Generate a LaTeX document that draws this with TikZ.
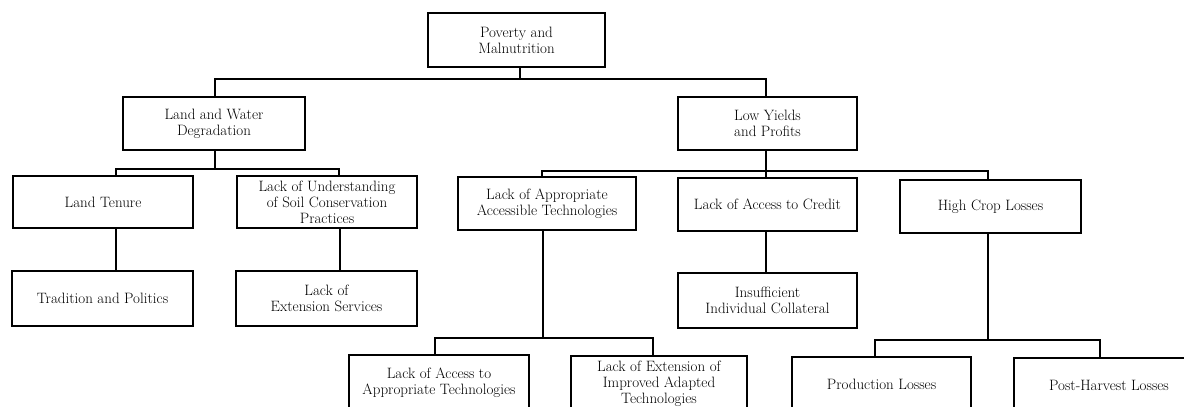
\documentclass[tikz,border=0pt]{standalone}
\usepackage{tikz}
\begin{document}
\begin{tikzpicture}[x=1pt,y=-1pt,
  box/.style={draw, line width=1.6pt, align=center, inner sep=0pt,
    font=\fontsize{15}{16}\selectfont},
  link/.style={line width=1.6pt}]
\useasboundingbox (0,0) rectangle (1184,407);
\clip (0,0) rectangle (1184,407);
\fill[white] (0,0) rectangle (1184,407);
% level 1
\node[box, minimum width=177pt, minimum height=54pt] (pov) at (516.5,40) {Poverty and\\Malnutrition};
% level 2
\node[box, minimum width=182pt, minimum height=53pt] (lw) at (214,123.5) {Land and Water\\Degradation};
\node[box, minimum width=179pt, minimum height=53pt] (ly) at (767.5,123.5) {Low Yields\\and Profits};
% level 3
\node[box, minimum width=180pt, minimum height=52pt] (lt) at (103,202) {Land Tenure};
\node[box, minimum width=180pt, minimum height=52pt] (lu) at (327,202) {Lack of Understanding\\of Soil Conservation\\Practices};
\node[box, minimum width=178pt, minimum height=53pt] (laat) at (547,203.5) {Lack of Appropriate\\Accessible Technologies};
\node[box, minimum width=179pt, minimum height=53pt] (lac) at (767.5,204.5) {Lack of Access to Credit};
\node[box, minimum width=181pt, minimum height=53pt] (hcl) at (990.5,206.5) {High Crop Losses};
% level 4
\node[box, minimum width=181pt, minimum height=55pt] (tp) at (102.5,298.5) {Tradition and Politics};
\node[box, minimum width=181pt, minimum height=55pt] (les) at (326.5,298.5) {Lack of\\Extension Services};
\node[box, minimum width=179pt, minimum height=55pt] (iic) at (767.5,300.5) {Insufficient\\Individual Collateral};
% level 5
\node[box, minimum width=180pt, minimum height=55pt] (lacat) at (439,382.5) {Lack of Access to\\Appropriate Technologies};
\node[box, minimum width=176pt, minimum height=55pt] (leiat) at (659,383.5) {Lack of Extension of\\Improved Adapted\\Technologies};
\node[box, minimum width=179pt, minimum height=55pt] (pl) at (881.5,384.5) {Production Losses};
\node[box, minimum width=190pt, minimum height=55pt] (phl) at (1109,385.5) {Post-Harvest Losses};
% connectors
\draw[link] ([xshift=3.5pt]pov.south) -- ++(0,11) -| ([xshift=1pt]lw.north);
\draw[link] ([xshift=3.5pt]pov.south) -- ++(0,11) -| ([xshift=-1.5pt]ly.north);
\draw[link] ([xshift=1pt]lw.south) -- ++(0,18) -| ([xshift=13pt]lt.north);
\draw[link] ([xshift=1pt]lw.south) -- ++(0,18) -| ([xshift=12pt]lu.north);
\draw[link] ([xshift=13pt]lt.south) -- ([xshift=13pt]lt.south |- tp.north);
\draw[link] ([xshift=13pt]lu.south) -- ([xshift=13pt]lu.south |- les.north);
\draw[link] ([xshift=-1.5pt]ly.south) -- ++(0,20) -| ([xshift=-5pt]laat.north);
\draw[link] ([xshift=-1.5pt]ly.south) -- ([xshift=-1.5pt]ly.south |- lac.north);
\draw[link] ([xshift=-1.5pt]ly.south) -- ++(0,20) -| ([xshift=-2.5pt]hcl.north);
\draw[link] ([xshift=-1.5pt]lac.south) -- ([xshift=-1.5pt]lac.south |- iic.north);
\draw[link] ([xshift=-4pt]laat.south) -- ++(0,107) -| ([xshift=-4pt]lacat.north);
\draw[link] ([xshift=-4pt]laat.south) -- ++(0,107) -| ([xshift=-6pt]leiat.north);
\draw[link] ([xshift=-2.5pt]hcl.south) -- ++(0,106) -| ([xshift=-6.5pt]pl.north);
\draw[link] ([xshift=-2.5pt]hcl.south) -- ++(0,106) -| ([xshift=-9pt]phl.north);
\end{tikzpicture}
\end{document}
